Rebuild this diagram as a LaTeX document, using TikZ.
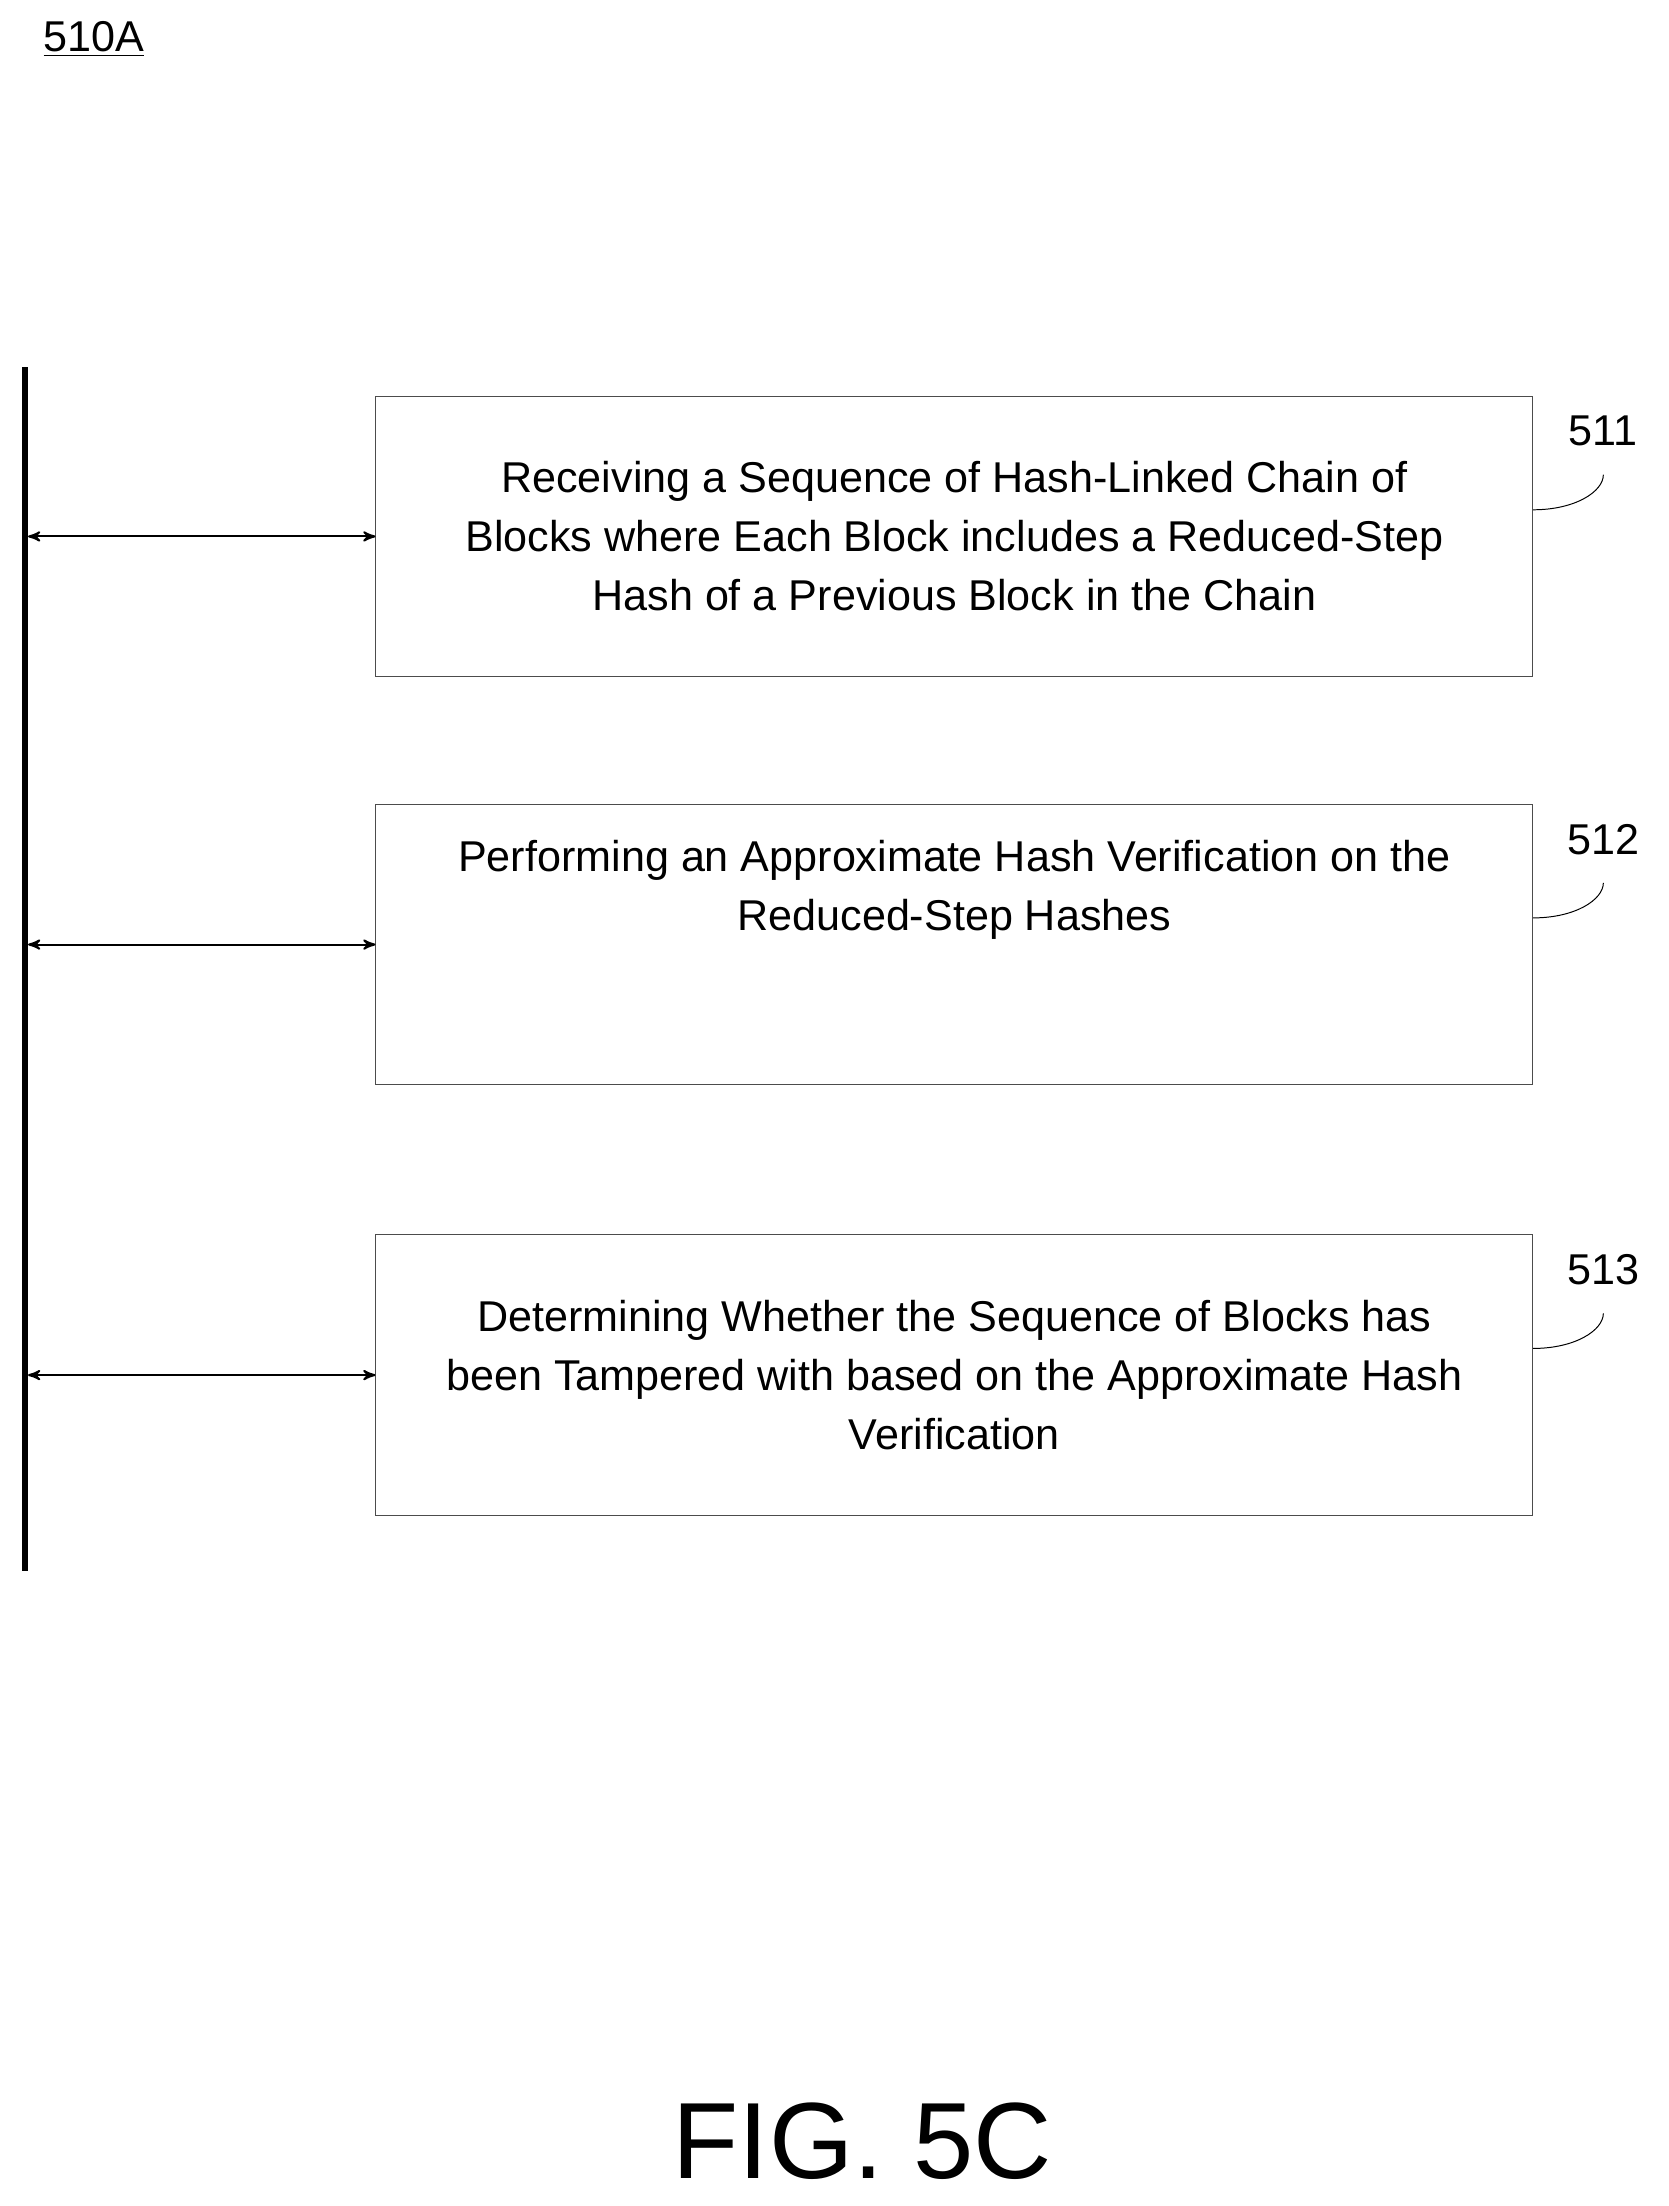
\documentclass[tikz,border=0pt]{standalone}
\usepackage{fontspec}
\setmainfont{Liberation Sans}
\usetikzlibrary{arrows,positioning}
\tikzset{stage/.style={rectangle,draw=black!70,thin,minimum width=16.5cm,minimum height=4cm,align=center,font=\fontsize{17.5}{24}\selectfont},
		link/.style={<->,>=stealth',thick},
		tag/.style={font=\fontsize{17.5}{20}\selectfont}}
\begin{document}
\begin{tikzpicture}[x=0.02cm,y=-0.02cm]
		\useasboundingbox (0,0) rectangle (1190,1573);
		\node[tag] (fig-id) at (67,28) {\underline{510A}};
		\draw[line width=2.4pt] (18,262) coordinate (rail-top) -- (18,1120) coordinate (rail-bottom);
		
		\node[stage] (receive) at (680.5,382.5) {Receiving a Sequence of Hash-Linked Chain of\\Blocks where Each Block includes a Reduced-Step\\Hash of a Previous Block in the Chain};
		\node[stage] (verify) at (680.5,673.5) {Performing an Approximate Hash Verification on the\\Reduced-Step Hashes\\[24pt]};
		\node[stage] (determine) at (680.5,980.5) {Determining Whether the Sequence of Blocks has\\been Tampered with based on the Approximate Hash\\Verification};
		
		\foreach \blk/\num in {receive/511,verify/512,determine/513}{
			\node[tag] (lbl-\num) at ([shift={(50,-75)}]\blk.east) {\num};
			\draw ([shift={(0,-19)}]\blk.east) .. controls +(30,0) and +(0,12) .. ([shift={(50,-44)}]\blk.east);
			\draw[link] (\blk.west -| rail-top) ++(2,0) -- (\blk.west);
		}
		
		\node[font=\fontsize{44}{44}\selectfont] (caption) at (615,1527) {FIG. 5C};
	\end{tikzpicture}
\end{document}
